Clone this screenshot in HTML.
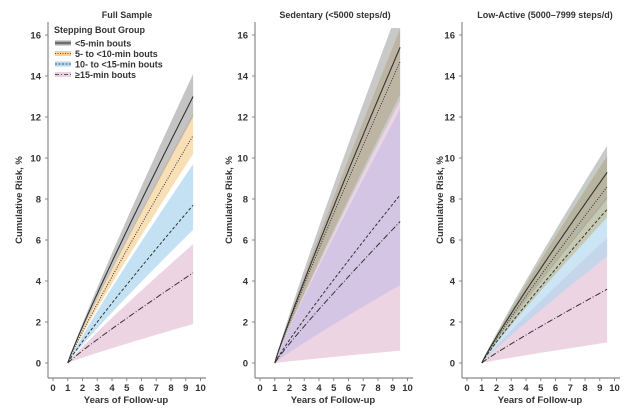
<!DOCTYPE html>
<html><head><meta charset="utf-8"><style>
html,body{margin:0;padding:0;background:#fff;}
svg{display:block;font-family:"Liberation Sans",sans-serif;}
</style></head><body>
<svg id="s" width="642" height="409" viewBox="0 0 642 409" xmlns="http://www.w3.org/2000/svg"></svg>
<script>
const S=document.getElementById('s');let h='';
const panels=[
 {ax:48,x0:53,title:'Full Sample',tx:127,ylab:22,
  s:[{e:4.4,lo:1.9,hi:5.8,c:'rgba(236,210,224,0.95)',d:'6,2,1,2'},
     {e:7.7,lo:6.5,hi:9.7,c:'rgba(180,218,240,0.8)',d:'3,2'},
     {e:11.1,lo:10.2,hi:12.2,c:'rgba(247,210,150,0.7)',d:'1,1.5'},
     {e:13.0,lo:12.0,hi:14.1,c:'rgba(165,165,165,0.65)',d:''}]},
 {ax:255,x0:260,title:'Sedentary (<5000 steps/d)',tx:335,ylab:232,
  s:[{e:6.9,lo:0.6,hi:12.8,c:'rgba(236,210,224,0.95)',d:'6,2,1,2'},
     {e:8.2,lo:3.8,hi:12.4,c:'rgba(185,180,230,0.45)',d:'3,2'},
     {e:14.7,lo:13.1,hi:16.3,c:'rgba(200,160,90,0.55)',d:'1,1.5'},
     {e:15.4,lo:12.8,hi:17.5,c:'rgba(165,165,165,0.6)',d:''}]},
 {ax:462,x0:467,title:'Low-Active (5000–7999 steps/d)',tx:545,ylab:443,
  s:[{e:3.6,lo:1.0,hi:6.1,c:'rgba(236,210,224,0.95)',d:'6,2,1,2'},
     {e:7.5,lo:5.2,hi:8.1,c:'rgba(175,215,240,0.65)',d:'3,2'},
     {e:8.6,lo:7.1,hi:10.1,c:'rgba(190,165,100,0.45)',d:'1,1.5'},
     {e:9.3,lo:8.0,hi:10.6,c:'rgba(130,140,130,0.45)',d:''}]}
];
const Y=v=>363-20.5*v;
panels.forEach((p,i)=>{
 const X=t=>p.x0+14.75*t;
 h+=`<clipPath id="c${i}"><rect x="${p.ax}" y="28" width="170" height="340"/></clipPath><g clip-path="url(#c${i})">`;
 const f=t=>Math.pow((t-1)/8.5,0.93);
 const pts=[];for(let t=1;t<=9.5001;t+=0.125)pts.push(t);
 p.s.forEach(s=>{
  let up=pts.map(t=>`${X(t).toFixed(1)},${Y(s.hi*f(t)).toFixed(1)}`);
  let dn=pts.slice().reverse().map(t=>`${X(t).toFixed(1)},${Y(s.lo*f(t)).toFixed(1)}`);
  h+=`<polygon points="${up.join(' ')} ${dn.join(' ')}" fill="${s.c}"/>`;
 });
 p.s.forEach(s=>{
  let ln=pts.map(t=>`${X(t).toFixed(1)},${Y(s.e*f(t)).toFixed(1)}`);
  h+=`<polyline points="${ln.join(' ')}" fill="none" stroke="#333" stroke-width="${s.d?1:1.1}" ${s.d?`stroke-dasharray="${s.d}"`:''}/>`;
 });
 h+='</g>';
 h+=`<line x1="${p.ax}" y1="22" x2="${p.ax}" y2="378" stroke="#888" stroke-width="1.2"/>`;
 h+=`<line x1="${p.ax}" y1="378" x2="${p.ax+158}" y2="378" stroke="#888" stroke-width="1.2"/>`;
 for(let v=0;v<=16;v+=2){h+=`<line x1="${p.ax-3}" y1="${Y(v)}" x2="${p.ax}" y2="${Y(v)}" stroke="#888"/><text x="${p.ax-7}" y="${Y(v)+3.5}" font-size="9.5" font-weight="bold" fill="#333" text-anchor="end">${v}</text>`;}
 for(let t=0;t<=10;t++){h+=`<line x1="${X(t)}" y1="378" x2="${X(t)}" y2="381" stroke="#888"/><text x="${X(t)}" y="391" font-size="9.5" font-weight="bold" fill="#333" text-anchor="middle">${t}</text>`;}
 h+=`<text x="${p.x0+73}" y="403" font-size="9.5" font-weight="bold" fill="#333" text-anchor="middle">Years of Follow-up</text>`;
 h+=`<text x="${p.tx}" y="18" font-size="9" font-weight="bold" fill="#333" text-anchor="middle">${p.title.replace('<','&lt;')}</text>`;
 h+=`<text transform="translate(${p.ylab},200) rotate(-90)" font-size="9.5" font-weight="bold" fill="#333" text-anchor="middle">Cumulative Risk, %</text>`;
});
h+=`<text x="54" y="33" font-size="9" font-weight="bold" fill="#333">Stepping Bout Group</text>`;
const L=[['&lt;5-min bouts','#aaa','#333',''],['5- to &lt;10-min bouts','#f7d296','#555','1,1.5'],['10- to &lt;15-min bouts','#b4daf0','#555','2,1.5'],['≥15-min bouts','#ecd2e0','#555','4,2,1,2']];
L.forEach((l,i)=>{const y=43+10.5*i;
 h+=`<rect x="55" y="${y-2.5}" width="16" height="5" fill="${l[1]}"/><line x1="55" y1="${y}" x2="71" y2="${y}" stroke="${l[2]}" stroke-width="1" ${l[3]?`stroke-dasharray="${l[3]}"`:''}/>`;
 h+=`<text x="75" y="${y+3.5}" font-size="9" font-weight="bold" fill="#333">${l[0]}</text>`;});
S.innerHTML=h;
</script>
</body></html>
